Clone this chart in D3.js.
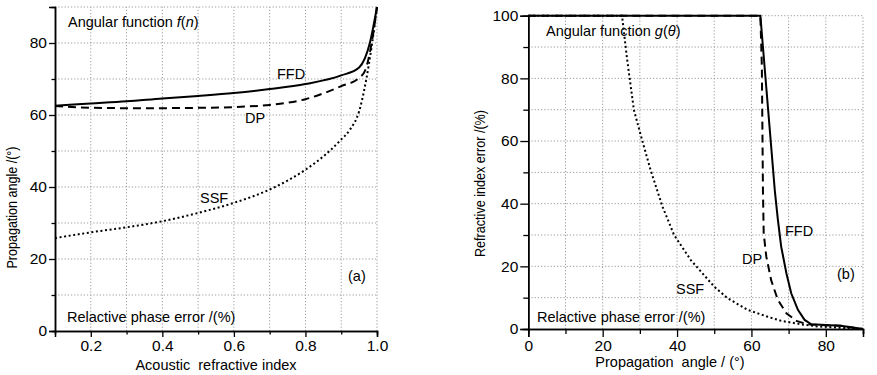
<!DOCTYPE html>
<html><head><meta charset="utf-8">
<script src="https://cdn.jsdelivr.net/npm/d3@7"></script>
<style>
body{margin:0;background:#fff;}
svg{display:block;font-family:"Liberation Sans",Arial,Helvetica,sans-serif;}
text{fill:#000;}
</style></head>
<body><svg id="c" width="877" height="375"></svg>
<script>
// ---- Panel (a) data: acoustic refractive index n -> propagation angle (deg)
const aFFD = [[0.1,62.6],[0.2,63.2],[0.3,63.8],[0.4,64.6],[0.5,65.3],[0.6,66.1],[0.7,67.2],[0.8,68.6],[0.9,71.0],[0.95,73.2],[0.98,80.0],[1.0,90.0]];
const aDP  = [[0.1,62.5],[0.2,62.0],[0.3,61.9],[0.4,61.9],[0.5,62.0],[0.6,62.2],[0.7,62.8],[0.75,63.4],[0.8,64.4],[0.85,66.0],[0.9,68.0],[0.95,70.3],[0.967,72.4],[0.985,80.0],[1.0,90.0]];
const aSSF = [[0.1,25.8],[0.2,27.4],[0.3,28.8],[0.4,30.5],[0.5,32.8],[0.6,35.6],[0.7,39.3],[0.8,44.8],[0.85,48.5],[0.9,53.2],[0.925,56.0],[0.95,61.0],[0.97,69.9],[0.985,79.0],[1.0,90.0]];
// ---- Panel (b) data: propagation angle (deg) -> refractive index error (%)
const bFFD = [[0,100],[62.4,100],[66.3,44],[67.1,35],[68,26.3],[69.4,17.8],[70.7,11.4],[72.5,6.1],[74.3,2.9],[76.1,1.5],[80,1.3],[84,1.0],[90,0]];
const bDP  = [[0,100],[62.4,100],[62.8,84],[63.1,44],[63.3,30.5],[64,23.1],[65.3,15.6],[67.1,9.3],[69.4,5],[72.1,2.6],[74.8,1.6],[76.1,1.4],[80,1.2],[84,1.0],[90,0]];
const bSSF = [[0,100],[25.2,100],[26.6,85.8],[28.4,69.9],[30.6,60.3],[32.9,50.7],[36.1,39],[39.2,30],[43.7,22],[50,13.5],[53.6,9.8],[59,6.1],[64.4,3.9],[68,2.6],[73.4,1.5],[78,0.8],[84,0.4],[90,0]];
// ---- ticks
const aXMajor = [0.2,0.4,0.6,0.8,1.0], aXMinor = [0.3,0.5,0.7,0.9];
const aYMajor = [0,20,40,60,80], aYMinor = [10,30,50,70];
const bXMajor = [0,20,40,60,80], bXMinor = [10,30,50,70,90];
const bYMajor = [0,20,40,60,80,100], bYMinor = [10,30,50,70,90];

const svg = d3.select("#c");
const FS = 14.5, TFS = 15.5;
const styles = {
  FFD:{dash:null},
  DP:{dash:"8,5"},
  SSF:{dash:"2,2.6"}
};

function panel(o){
  const g = svg.append("g");
  const x = d3.scaleLinear().domain(o.xd).range([o.x0,o.x1]);
  const y = d3.scaleLinear().domain(o.yd).range([o.y0,o.y1]);
  g.selectAll(".gx").data(o.xGrid).join("line")
    .attr("x1",d=>x(d)).attr("x2",d=>x(d)).attr("y1",o.y0).attr("y2",o.y1)
    .attr("stroke","#9a9a9a").attr("stroke-width",1).attr("stroke-dasharray","1.2,2");
  g.selectAll(".gy").data(o.yGrid).join("line")
    .attr("y1",d=>y(d)).attr("y2",d=>y(d)).attr("x1",o.x0).attr("x2",o.x1)
    .attr("stroke","#9a9a9a").attr("stroke-width",1).attr("stroke-dasharray","1.2,2");
  const xa = d3.axisBottom(x).tickValues(o.xMajor).tickSize(o.tMaj).tickPadding(3).tickFormat(o.xFmt);
  const xm = d3.axisBottom(x).tickValues(o.xMinor).tickSize(o.tMin).tickFormat("");
  const ya = d3.axisLeft(y).tickValues(o.yMajor).tickSize(o.tMaj).tickPadding(2).tickFormat(d3.format("d"));
  const ym = d3.axisLeft(y).tickValues(o.yMinor).tickSize(o.tMin).tickFormat("");
  [[xa,"b"],[xm,"b"],[ya,"l"],[ym,"l"]].forEach(([ax,s])=>{
    const a = g.append("g").attr("transform", s==="b" ? `translate(0,${o.y0})` : `translate(${o.x0},0)`).call(ax);
    a.select(".domain").attr("stroke","#000").attr("stroke-width",1.5);
    a.selectAll(".tick line").attr("stroke","#000").attr("stroke-width",1.3);
    a.selectAll("text").attr("font-size",TFS).attr("font-family","Liberation Sans, Arial, sans-serif").attr("fill","#000");
  });
  const line = d3.line().x(d=>x(d[0])).y(d=>y(d[1])).curve(o.curve);
  o.series.forEach(s=>{
    g.append("path").datum(s.data).attr("d",line).attr("fill","none")
      .attr("stroke","#000").attr("stroke-width",2)
      .attr("stroke-dasharray",styles[s.name].dash);
  });
  return {g,x,y};
}

panel({xd:[0.1,1.0], yd:[0,90], x0:55, x1:377, y0:331, y1:7,
  xGrid:[0.2,0.3,0.4,0.5,0.6,0.7,0.8,0.9,1.0], yGrid:[10,20,30,40,50,60,70,80,90],
  xMajor:aXMajor, xMinor:aXMinor, yMajor:aYMajor, yMinor:aYMinor, tMaj:6, tMin:3.5,
  xFmt:d3.format(".1f"), curve:d3.curveMonotoneX,
  series:[{name:"SSF",data:aSSF},{name:"DP",data:aDP},{name:"FFD",data:aFFD}]});

panel({xd:[0,90], yd:[0,100], x0:528.3, x1:863, y0:329, y1:15.7,
  xGrid:[10,20,30,40,50,60,70,80,90], yGrid:[10,20,30,40,50,60,70,80,90,100],
  xMajor:bXMajor, xMinor:bXMinor, yMajor:bYMajor, yMinor:bYMinor, tMaj:8, tMin:5,
  xFmt:d3.format("d"), curve:d3.curveLinear,
  series:[{name:"SSF",data:bSSF},{name:"DP",data:bDP},{name:"FFD",data:bFFD}]});

function txt(x,y,s,extra){
  const t = svg.append("text").attr("x",x).attr("y",y).attr("font-size",FS).style("white-space","pre");
  if(typeof s === "string") t.text(s);
  else s.forEach(p=>{ const ts=t.append("tspan").text(p.t); if(p.i) ts.attr("font-style","italic"); });
  if(extra) extra(t);
  return t;
}
// Panel a texts
txt(68,27,[{t:"Angular function "},{t:"f",i:1},{t:"("},{t:"n",i:1},{t:")"}]);
txt(67,322,"Relactive phase error /(%)");
txt(348,281,"(a)");
txt(277,79,"FFD");
txt(245,123,"DP");
txt(200,203,"SSF");
txt(216,370,"Acoustic  refractive index",t=>t.attr("text-anchor","middle"));
svg.append("text").attr("transform","translate(17,207.5) rotate(-90)").attr("text-anchor","middle")
  .attr("font-size",FS).attr("textLength",122).attr("lengthAdjust","spacingAndGlyphs").text("Propagation angle /(°)");
// Panel b texts
txt(546,36,[{t:"Angular function "},{t:"g",i:1},{t:"("},{t:"θ",i:1},{t:")"}]);
txt(537,322,"Relactive phase error /(%)");
txt(837,279,"(b)");
txt(785,236,"FFD");
txt(742,264,"DP");
txt(676,294,"SSF");
txt(670,367,"Propagation  angle / (°)",t=>t.attr("text-anchor","middle"));
svg.append("text").attr("transform","translate(485,183.5) rotate(-90)").attr("text-anchor","middle")
  .attr("font-size",FS).attr("textLength",147).attr("lengthAdjust","spacingAndGlyphs").text("Refractive index error /(%)");
</script></body></html>
